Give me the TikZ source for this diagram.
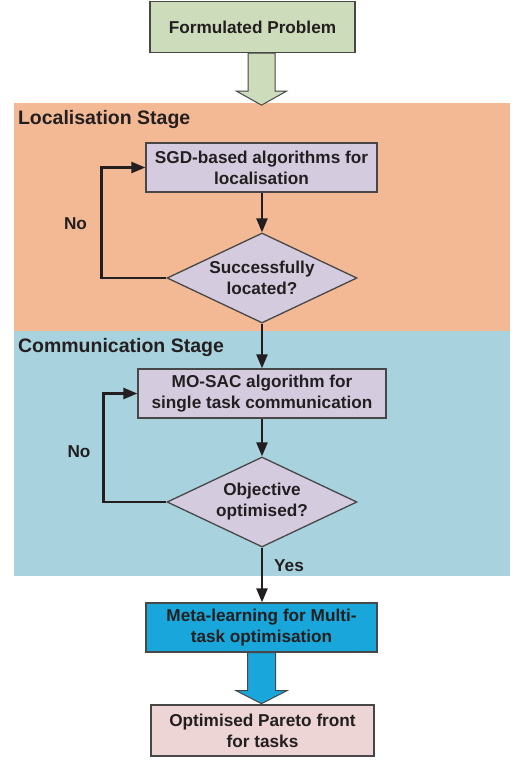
\documentclass[tikz,border=0pt]{standalone}
\usepackage{fontspec}
\setmainfont{Liberation Sans}
\usetikzlibrary{arrows.meta,shapes.geometric,calc}
\definecolor{inkc}{HTML}{231F20}
\definecolor{edgec}{HTML}{474747}
\definecolor{greenf}{HTML}{CDDCBA}
\definecolor{orangef}{HTML}{F3B994}
\definecolor{bluef}{HTML}{A8D2DE}
\definecolor{lavf}{HTML}{D4CCDE}
\definecolor{metaf}{HTML}{19A7DB}
\definecolor{pinkf}{HTML}{ECD5D4}
\tikzset{
  boxtext/.style={font=\fontsize{17.2}{21}\selectfont\bfseries, text=inkc, align=center},
  box/.style={boxtext, draw=edgec, line width=1.3pt, inner sep=0pt},
  dia/.style={draw=edgec, line width=1.3pt, diamond, fill=lavf, inner sep=0pt,
              minimum width=190pt, minimum height=90pt, aspect=2.11},
  heading/.style={font=\fontsize{19.5}{23}\selectfont\bfseries, text=inkc, anchor=west},
  arr/.style={draw=inkc, line width=2.4pt, -{Triangle[length=14pt,width=11pt]}},
  blockarrow/.style={draw=edgec, line width=1pt}
}
\begin{document}
\begin{tikzpicture}[x=1pt,y=-1pt]
\useasboundingbox (0,0) rectangle (512,782);
% stage regions
\fill[orangef] (14,103) rectangle (510,331);
\fill[bluef] (14,331) rectangle (510,576);
\node[heading] (h1) at (14.5,119) {Localisation Stage};
\node[heading] (h2) at (14.5,347) {Communication Stage};
% boxes
\node[box, fill=greenf, minimum width=205pt, minimum height=51pt] (fp) at (252.5,27) {Formulated Problem};
\node[box, fill=lavf, minimum width=231pt, minimum height=49pt] (sgd) at (261.5,167.5) {SGD-based algorithms for\\localisation};
\node[dia] (d1) at (262,278) {};
\node[boxtext] (d1t) at (d1.center) {Successfully\\located?};
\node[box, fill=lavf, minimum width=248pt, minimum height=49pt] (mosac) at (262,393.5) {MO-SAC algorithm for\\single task communication};
\node[dia] (d2) at (262,502) {};
\node[boxtext] (d2t) at (d2.center) {Objective\\optimised?};
\node[box, fill=metaf, minimum width=231pt, minimum height=49pt] (meta) at (261.5,627.5) {Meta-learning for Multi-\\task optimisation};
\node[box, fill=pinkf, minimum width=223pt, minimum height=51pt] (pareto) at (262.5,730.5) {Optimised Pareto front\\for tasks};
% block arrows
\coordinate (a1) at (fp.south -| sgd.north);
\filldraw[blockarrow, fill=greenf] ($(a1)+(-13.5,0)$) -- ($(a1)+(13.5,0)$) -- ($(a1)+(13.5,38)$) -- ($(a1)+(25,38)$) -- ($(a1)+(0,52)$) -- ($(a1)+(-25,38)$) -- ($(a1)+(-13.5,38)$) -- cycle;
\coordinate (a2) at (meta.south);
\filldraw[blockarrow, fill=metaf] ($(a2)+(-14,0)$) -- ($(a2)+(14,0)$) -- ($(a2)+(14,38)$) -- ($(a2)+(25.5,38)$) -- ($(a2)+(0,51)$) -- ($(a2)+(-25.5,38)$) -- ($(a2)+(-14,38)$) -- cycle;
% connectors
\draw[arr] (sgd.south -| d1.north) -- (d1.north);
\draw[arr] (d1.south) -- (mosac.north -| d1.south);
\draw[arr] (mosac.south -| d2.north) -- (d2.north);
\draw[arr] (d2.south) -- (meta.north -| d2.south);
\draw[arr] (d1.west) -- ++(-65,0) |- (sgd.west);
\draw[arr] (d2.west) -- ++(-63,0) |- (mosac.west);
% labels
\node[boxtext] (no1) at (75.5,224) {No};
\node[boxtext] (no2) at (79,452) {No};
\node[boxtext] (yes) at (289,566) {Yes};
\end{tikzpicture}
\end{document}
